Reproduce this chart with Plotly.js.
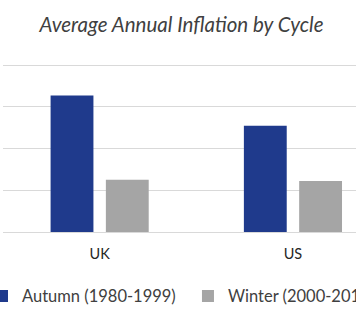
<!DOCTYPE html>
<html>
<head>
<meta charset="utf-8">
<script src="https://cdn.plot.ly/plotly-3.0.1.min.js"></script>
<style>html,body{margin:0;padding:0;background:#fff;}#chart{width:356px;height:326px;}</style>
</head>
<body>
<div id="chart"></div>
<script>
var categories = ["UK", "US"];
var seriesNames = ["Autumn (1980-1999)", "Winter (2000-2013)"];
var autumnValues = [6.55, 5.1];
var winterValues = [2.5, 2.45];
var seriesColors = ["#1F3A8C", "#A5A5A5"];
var gridValues = [0, 2, 4, 6, 8];

var traces = [
  {type: "bar", x: categories, y: autumnValues, name: seriesNames[0],
   marker: {color: seriesColors[0]}, hoverinfo: "none", legend: "legend"},
  {type: "bar", x: categories, y: winterValues, name: seriesNames[1],
   marker: {color: seriesColors[1]}, hoverinfo: "none", legend: "legend2"}
];

var legendFont = {family: "Lato", size: 16.5, color: "#404040"};

var layout = {
  width: 356, height: 326,
  margin: {l: 3, r: 0, t: 61, b: 94, pad: 0, autoexpand: false},
  paper_bgcolor: "#fff", plot_bgcolor: "#fff",
  title: {text: "<i>Average Annual Inflation by Cycle</i>",
          font: {family: "Lato", size: 20.5, color: "#404040"},
          x: 0.51, xanchor: "center", y: 0.925, yanchor: "middle"},
  barmode: "group", bargap: 0.428, bargroupgap: 0.225,
  xaxis: {range: [-0.5, 1.3262], showgrid: false, zeroline: false, showline: false,
          ticks: "", ticklabelstandoff: 11, tickfont: {family: "Lato", size: 14.5, color: "#262626"}},
  yaxis: {range: [0, 8.2], tickvals: gridValues, showticklabels: false, gridcolor: "#D9D9D9",
          gridwidth: 1, zeroline: true, zerolinecolor: "#D9D9D9", zerolinewidth: 1, showline: false},
  showlegend: true,
  legend: {orientation: "h", x: -0.0595, xanchor: "left", y: -0.376, yanchor: "middle",
           font: legendFont, bgcolor: "rgba(0,0,0,0)", borderwidth: 0, itemclick: false},
  legend2: {orientation: "h", x: 0.524, xanchor: "left", y: -0.376, yanchor: "middle",
           font: legendFont, bgcolor: "rgba(0,0,0,0)", borderwidth: 0, itemclick: false}
};

Plotly.newPlot("chart", traces, layout, {staticPlot: true, displayModeBar: false});
</script>
</body>
</html>
